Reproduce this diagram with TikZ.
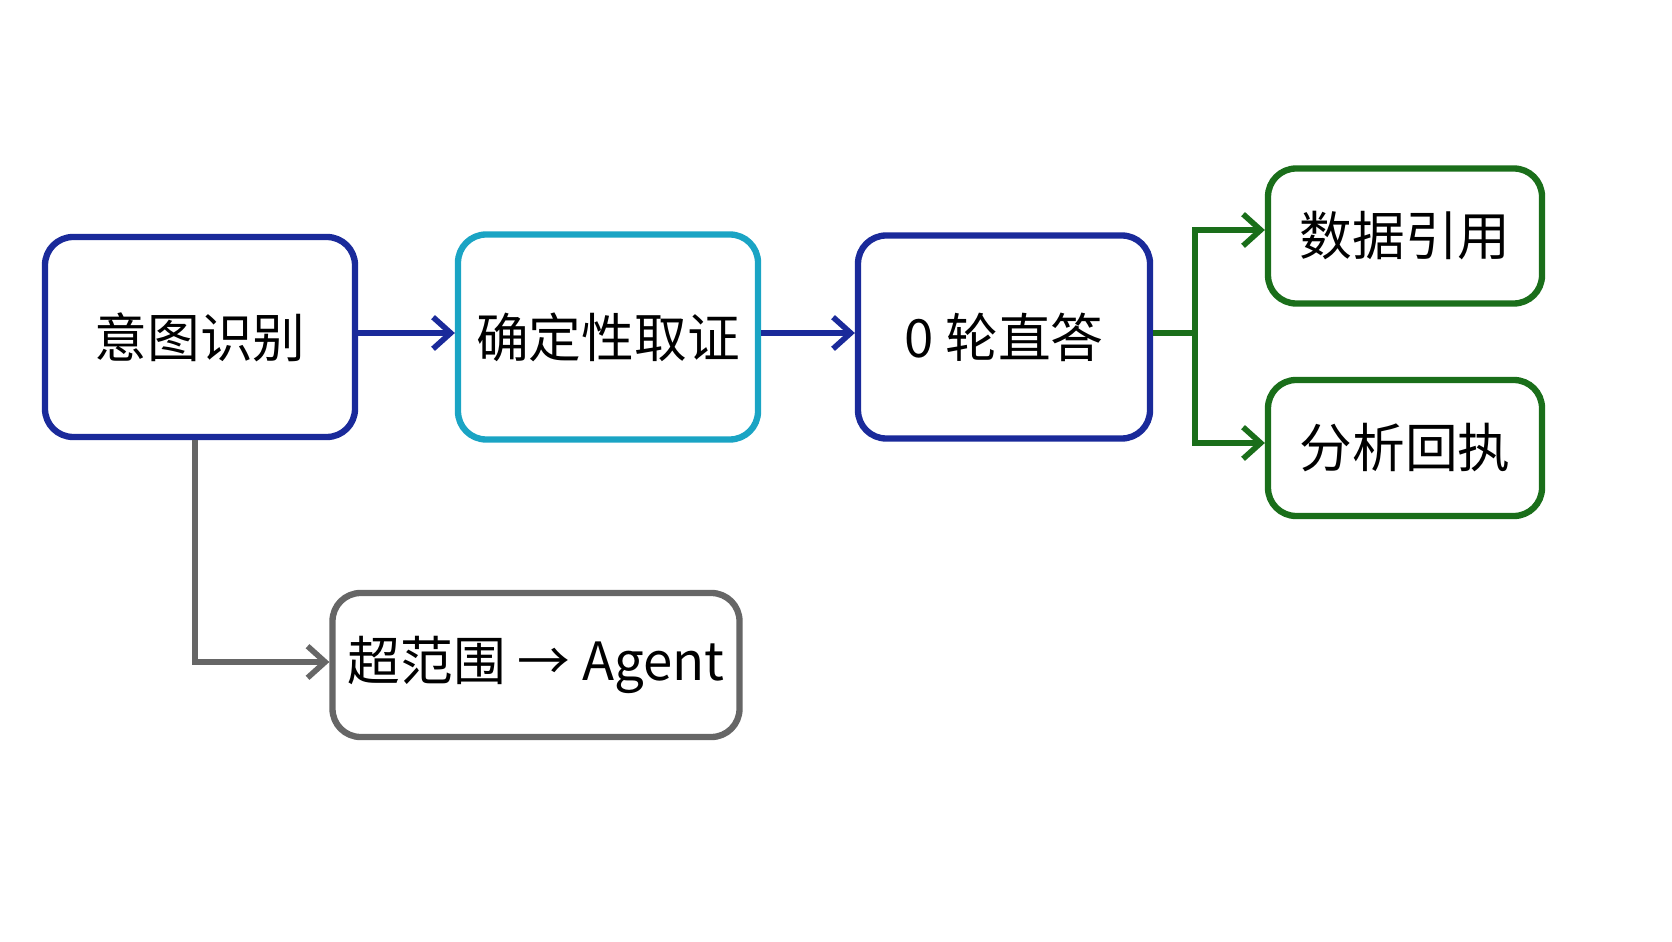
\documentclass[tikz,border=0pt]{standalone}
\usepackage{fontspec}
\setmainfont{Noto Sans CJK SC}
\usetikzlibrary{arrows.meta}
\definecolor{navy}{HTML}{1A2A9A}
\definecolor{teal}{HTML}{1AA4C4}
\definecolor{leaf}{HTML}{1A6E1A}
\definecolor{slate}{HTML}{666666}
\tikzset{
  box/.style={draw, line width=1.8pt, rounded corners=8pt, font=\fontsize{15}{18}\selectfont},
  link/.style={line width=1.6pt, -{Straight Barb[length=5pt,width=9pt,line width=1.6pt]}}
}
\begin{document}
\begin{tikzpicture}
    \useasboundingbox (0,0) rectangle (16.72,9.41);
    \node[box, navy, minimum width=3.1cm, minimum height=2.0cm, text=black] (intent) at (2.00,6.04) {意图识别};
    \node[box, teal, minimum width=3.0cm, minimum height=2.05cm, text=black] (proof) at (6.08,6.04) {确定性取证};
    \node[box, navy, minimum width=2.92cm, minimum height=2.03cm, text=black] (direct) at (10.04,6.04) {0 轮直答};
    \node[box, leaf, minimum width=2.74cm, minimum height=1.35cm, text=black] (cite) at (14.05,7.05) {数据引用};
    \node[box, leaf, minimum width=2.74cm, minimum height=1.36cm, text=black] (receipt) at (14.05,4.93) {分析回执};
    \node[box, slate, minimum width=4.07cm, minimum height=1.44cm, text=black] (agent) at (5.36,2.76) {超范围 → Agent};

    \coordinate (split) at (11.95,6.08);
    \draw[link, navy] (intent.east |- 0,6.08) -- (proof.west |- 0,6.08);
    \draw[link, navy] (proof.east |- 0,6.08) -- (direct.west |- 0,6.08);
    \draw[line width=1.6pt, leaf] (direct.east |- split) -- (split);
    \draw[link, leaf] (split) |- (cite.west |- 0,7.11);
    \draw[link, leaf] (split) |- (receipt.west |- 0,4.98);
    \draw[link, slate] (intent.south -| 1.95,0) |- (agent.west |- 0,2.79);
\end{tikzpicture}
\end{document}
